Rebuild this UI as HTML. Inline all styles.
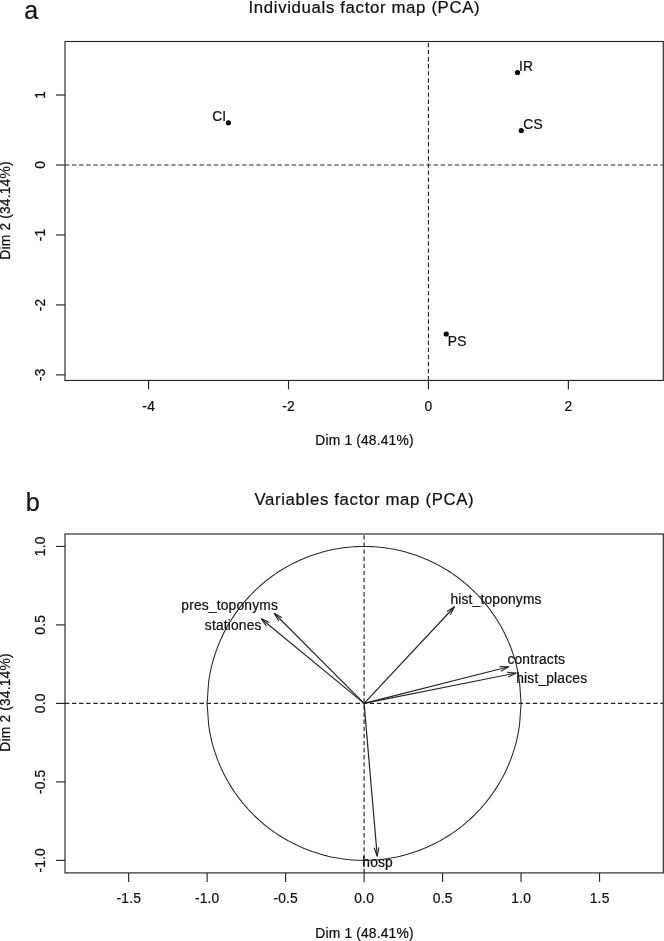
<!DOCTYPE html>
<html lang="en"><head><meta charset="utf-8"><title>PCA factor maps</title>
<style>html,body{margin:0;padding:0;background:#fff}svg{display:block}text{font-family:"Liberation Sans",sans-serif;fill:#111;stroke:#111;stroke-width:0.22px}</style>
</head><body>
<svg width="664" height="941" viewBox="0 0 664 941">
<rect x="0" y="0" width="664" height="941" fill="#ffffff"/>
<g>
<line x1="65.00" y1="165.00" x2="663.30" y2="165.00" stroke="#262626" stroke-width="1.15" stroke-dasharray="4.4 2.69" stroke-dashoffset="0.1"/>
<line x1="428.45" y1="380.45" x2="428.45" y2="41.50" stroke="#262626" stroke-width="1.15" stroke-dasharray="4.4 2.69" stroke-dashoffset="0"/>
<rect x="65.0" y="41.5" width="598.30" height="338.95" fill="none" stroke="#262626" stroke-width="1.15"/>
<line x1="56.00" y1="95.03" x2="65.00" y2="95.03" stroke="#262626" stroke-width="1.15"/>
<text transform="translate(44.65 94.94) rotate(-90)" font-size="13.8" letter-spacing="0.18" text-anchor="middle">1</text>
<line x1="56.00" y1="165.00" x2="65.00" y2="165.00" stroke="#262626" stroke-width="1.15"/>
<text transform="translate(44.65 164.91) rotate(-90)" font-size="13.8" letter-spacing="0.18" text-anchor="middle">0</text>
<line x1="56.00" y1="234.97" x2="65.00" y2="234.97" stroke="#262626" stroke-width="1.15"/>
<text transform="translate(44.65 234.88) rotate(-90)" font-size="13.8" letter-spacing="0.18" text-anchor="middle">-1</text>
<line x1="56.00" y1="304.93" x2="65.00" y2="304.93" stroke="#262626" stroke-width="1.15"/>
<text transform="translate(44.65 304.84) rotate(-90)" font-size="13.8" letter-spacing="0.18" text-anchor="middle">-2</text>
<line x1="56.00" y1="374.89" x2="65.00" y2="374.89" stroke="#262626" stroke-width="1.15"/>
<text transform="translate(44.65 374.81) rotate(-90)" font-size="13.8" letter-spacing="0.18" text-anchor="middle">-3</text>
<line x1="148.59" y1="380.45" x2="148.59" y2="389.45" stroke="#262626" stroke-width="1.15"/>
<text transform="translate(148.68 410.70)" font-size="13.8" letter-spacing="0.18" text-anchor="middle">-4</text>
<line x1="288.52" y1="380.45" x2="288.52" y2="389.45" stroke="#262626" stroke-width="1.15"/>
<text transform="translate(288.61 410.70)" font-size="13.8" letter-spacing="0.18" text-anchor="middle">-2</text>
<line x1="428.45" y1="380.45" x2="428.45" y2="389.45" stroke="#262626" stroke-width="1.15"/>
<text transform="translate(428.54 410.70)" font-size="13.8" letter-spacing="0.18" text-anchor="middle">0</text>
<line x1="568.38" y1="380.45" x2="568.38" y2="389.45" stroke="#262626" stroke-width="1.15"/>
<text transform="translate(568.47 410.70)" font-size="13.8" letter-spacing="0.18" text-anchor="middle">2</text>
<text transform="translate(364.49 445.30)" font-size="13.8" letter-spacing="0.18" text-anchor="middle">Dim 1 (48.41%)</text>
<text transform="translate(10.30 210.51) rotate(-90)" font-size="13.8" letter-spacing="0.18" text-anchor="middle">Dim 2 (34.14%)</text>
<text transform="translate(364.43 12.50)" font-size="16.8" letter-spacing="0.65" text-anchor="middle">Individuals factor map (PCA)</text>
<text transform="translate(24.30 18.90) scale(0.96 1)" font-size="26" letter-spacing="0" text-anchor="start">a</text>
<circle cx="228.4" cy="122.75" r="2.6" fill="#000"/>
<text transform="translate(212.20 120.60)" font-size="13.8" letter-spacing="0.18" text-anchor="start">CI</text>
<circle cx="517.5" cy="72.5" r="2.6" fill="#000"/>
<text transform="translate(519.00 70.75)" font-size="13.8" letter-spacing="0.18" text-anchor="start">IR</text>
<circle cx="521.25" cy="130.5" r="2.6" fill="#000"/>
<text transform="translate(523.30 129.25)" font-size="13.8" letter-spacing="0.18" text-anchor="start">CS</text>
<circle cx="446.25" cy="334.0" r="2.6" fill="#000"/>
<text transform="translate(447.80 345.60)" font-size="13.8" letter-spacing="0.18" text-anchor="start">PS</text>
</g>
<g>
<line x1="65.00" y1="703.40" x2="663.30" y2="703.40" stroke="#262626" stroke-width="1.15" stroke-dasharray="4.4 2.69" stroke-dashoffset="0.1"/>
<line x1="364.10" y1="872.90" x2="364.10" y2="534.00" stroke="#262626" stroke-width="1.15" stroke-dasharray="4.4 2.69" stroke-dashoffset="0"/>
<polyline fill="none" stroke="#262626" stroke-width="1.05" stroke-linejoin="round" points="207.1,703.4 208.7,681.3 210.3,672.2 211.8,665.2 213.4,659.5 215.0,654.4 216.6,649.8 218.1,645.7 219.7,641.9 221.3,638.3 222.8,635.0 224.4,631.8 226.0,628.8 227.5,626.0 229.1,623.3 230.7,620.7 232.3,618.2 233.8,615.9 235.4,613.6 237.0,611.4 238.5,609.2 240.1,607.2 241.7,605.2 243.2,603.3 244.8,601.4 246.4,599.6 247.9,597.8 249.5,596.1 251.1,594.5 252.7,592.9 254.2,591.3 255.8,589.8 257.4,588.3 258.9,586.9 260.5,585.5 262.1,584.1 263.6,582.8 265.2,581.5 266.8,580.2 268.4,579.0 269.9,577.8 271.5,576.7 273.1,575.5 274.6,574.4 276.2,573.4 277.8,572.3 279.3,571.3 280.9,570.3 282.5,569.3 284.1,568.4 285.6,567.5 287.2,566.6 288.8,565.7 290.3,564.9 291.9,564.0 293.5,563.2 295.0,562.5 296.6,561.7 298.2,561.0 299.7,560.2 301.3,559.5 302.9,558.9 304.5,558.2 306.0,557.6 307.6,557.0 309.2,556.4 310.7,555.8 312.3,555.2 313.9,554.7 315.4,554.2 317.0,553.7 318.6,553.2 320.2,552.7 321.7,552.3 323.3,551.8 324.9,551.4 326.4,551.0 328.0,550.6 329.6,550.3 331.1,549.9 332.7,549.6 334.3,549.3 335.8,549.0 337.4,548.7 339.0,548.5 340.6,548.2 342.1,548.0 343.7,547.8 345.3,547.6 346.8,547.4 348.4,547.2 350.0,547.1 351.5,546.9 353.1,546.8 354.7,546.7 356.3,546.6 357.8,546.6 359.4,546.5 361.0,546.5 362.5,546.4 364.1,546.4 365.7,546.4 367.2,546.5 368.8,546.5 370.4,546.6 371.9,546.6 373.5,546.7 375.1,546.8 376.7,546.9 378.2,547.1 379.8,547.2 381.4,547.4 382.9,547.6 384.5,547.8 386.1,548.0 387.6,548.2 389.2,548.5 390.8,548.7 392.4,549.0 393.9,549.3 395.5,549.6 397.1,549.9 398.6,550.3 400.2,550.6 401.8,551.0 403.3,551.4 404.9,551.8 406.5,552.3 408.0,552.7 409.6,553.2 411.2,553.7 412.8,554.2 414.3,554.7 415.9,555.2 417.5,555.8 419.0,556.4 420.6,557.0 422.2,557.6 423.7,558.2 425.3,558.9 426.9,559.5 428.5,560.2 430.0,561.0 431.6,561.7 433.2,562.5 434.7,563.2 436.3,564.0 437.9,564.9 439.4,565.7 441.0,566.6 442.6,567.5 444.1,568.4 445.7,569.3 447.3,570.3 448.9,571.3 450.4,572.3 452.0,573.4 453.6,574.4 455.1,575.5 456.7,576.7 458.3,577.8 459.8,579.0 461.4,580.2 463.0,581.5 464.6,582.8 466.1,584.1 467.7,585.5 469.3,586.9 470.8,588.3 472.4,589.8 474.0,591.3 475.5,592.9 477.1,594.5 478.7,596.1 480.3,597.8 481.8,599.6 483.4,601.4 485.0,603.3 486.5,605.2 488.1,607.2 489.7,609.2 491.2,611.4 492.8,613.6 494.4,615.9 495.9,618.2 497.5,620.7 499.1,623.3 500.7,626.0 502.2,628.8 503.8,631.8 505.4,635.0 506.9,638.3 508.5,641.9 510.1,645.7 511.6,649.8 513.2,654.4 514.8,659.5 516.4,665.2 517.9,672.2 519.5,681.3 521.1,703.4"/>
<polyline fill="none" stroke="#262626" stroke-width="1.05" stroke-linejoin="round" points="207.1,703.4 208.7,725.5 210.3,734.6 211.8,741.6 213.4,747.3 215.0,752.4 216.6,757.0 218.1,761.1 219.7,764.9 221.3,768.5 222.8,771.8 224.4,775.0 226.0,778.0 227.5,780.8 229.1,783.5 230.7,786.1 232.3,788.6 233.8,790.9 235.4,793.2 237.0,795.4 238.5,797.6 240.1,799.6 241.7,801.6 243.2,803.5 244.8,805.4 246.4,807.2 247.9,809.0 249.5,810.7 251.1,812.3 252.7,813.9 254.2,815.5 255.8,817.0 257.4,818.5 258.9,819.9 260.5,821.3 262.1,822.7 263.6,824.0 265.2,825.3 266.8,826.6 268.4,827.8 269.9,829.0 271.5,830.1 273.1,831.3 274.6,832.4 276.2,833.4 277.8,834.5 279.3,835.5 280.9,836.5 282.5,837.5 284.1,838.4 285.6,839.3 287.2,840.2 288.8,841.1 290.3,841.9 291.9,842.8 293.5,843.6 295.0,844.3 296.6,845.1 298.2,845.8 299.7,846.6 301.3,847.3 302.9,847.9 304.5,848.6 306.0,849.2 307.6,849.8 309.2,850.4 310.7,851.0 312.3,851.6 313.9,852.1 315.4,852.6 317.0,853.1 318.6,853.6 320.2,854.1 321.7,854.5 323.3,855.0 324.9,855.4 326.4,855.8 328.0,856.2 329.6,856.5 331.1,856.9 332.7,857.2 334.3,857.5 335.8,857.8 337.4,858.1 339.0,858.3 340.6,858.6 342.1,858.8 343.7,859.0 345.3,859.2 346.8,859.4 348.4,859.6 350.0,859.7 351.5,859.9 353.1,860.0 354.7,860.1 356.3,860.2 357.8,860.2 359.4,860.3 361.0,860.3 362.5,860.4 364.1,860.4 365.7,860.4 367.2,860.3 368.8,860.3 370.4,860.2 371.9,860.2 373.5,860.1 375.1,860.0 376.7,859.9 378.2,859.7 379.8,859.6 381.4,859.4 382.9,859.2 384.5,859.0 386.1,858.8 387.6,858.6 389.2,858.3 390.8,858.1 392.4,857.8 393.9,857.5 395.5,857.2 397.1,856.9 398.6,856.5 400.2,856.2 401.8,855.8 403.3,855.4 404.9,855.0 406.5,854.5 408.0,854.1 409.6,853.6 411.2,853.1 412.8,852.6 414.3,852.1 415.9,851.6 417.5,851.0 419.0,850.4 420.6,849.8 422.2,849.2 423.7,848.6 425.3,847.9 426.9,847.3 428.5,846.6 430.0,845.8 431.6,845.1 433.2,844.3 434.7,843.6 436.3,842.8 437.9,841.9 439.4,841.1 441.0,840.2 442.6,839.3 444.1,838.4 445.7,837.5 447.3,836.5 448.9,835.5 450.4,834.5 452.0,833.4 453.6,832.4 455.1,831.3 456.7,830.1 458.3,829.0 459.8,827.8 461.4,826.6 463.0,825.3 464.6,824.0 466.1,822.7 467.7,821.3 469.3,819.9 470.8,818.5 472.4,817.0 474.0,815.5 475.5,813.9 477.1,812.3 478.7,810.7 480.3,809.0 481.8,807.2 483.4,805.4 485.0,803.5 486.5,801.6 488.1,799.6 489.7,797.6 491.2,795.4 492.8,793.2 494.4,790.9 495.9,788.6 497.5,786.1 499.1,783.5 500.7,780.8 502.2,778.0 503.8,775.0 505.4,771.8 506.9,768.5 508.5,764.9 510.1,761.1 511.6,757.0 513.2,752.4 514.8,747.3 516.4,741.6 517.9,734.6 519.5,725.5 521.1,703.4"/>
<rect x="65.0" y="534.0" width="598.30" height="338.90" fill="none" stroke="#262626" stroke-width="1.15"/>
<line x1="56.00" y1="546.44" x2="65.00" y2="546.44" stroke="#262626" stroke-width="1.15"/>
<text transform="translate(44.65 546.35) rotate(-90)" font-size="13.8" letter-spacing="0.18" text-anchor="middle">1.0</text>
<line x1="56.00" y1="624.92" x2="65.00" y2="624.92" stroke="#262626" stroke-width="1.15"/>
<text transform="translate(44.65 624.83) rotate(-90)" font-size="13.8" letter-spacing="0.18" text-anchor="middle">0.5</text>
<line x1="56.00" y1="703.40" x2="65.00" y2="703.40" stroke="#262626" stroke-width="1.15"/>
<text transform="translate(44.65 703.31) rotate(-90)" font-size="13.8" letter-spacing="0.18" text-anchor="middle">0.0</text>
<line x1="56.00" y1="781.88" x2="65.00" y2="781.88" stroke="#262626" stroke-width="1.15"/>
<text transform="translate(44.65 781.79) rotate(-90)" font-size="13.8" letter-spacing="0.18" text-anchor="middle">-0.5</text>
<line x1="56.00" y1="860.36" x2="65.00" y2="860.36" stroke="#262626" stroke-width="1.15"/>
<text transform="translate(44.65 860.27) rotate(-90)" font-size="13.8" letter-spacing="0.18" text-anchor="middle">-1.0</text>
<line x1="128.66" y1="872.90" x2="128.66" y2="881.90" stroke="#262626" stroke-width="1.15"/>
<text transform="translate(128.75 903.30)" font-size="13.8" letter-spacing="0.18" text-anchor="middle">-1.5</text>
<line x1="207.14" y1="872.90" x2="207.14" y2="881.90" stroke="#262626" stroke-width="1.15"/>
<text transform="translate(207.23 903.30)" font-size="13.8" letter-spacing="0.18" text-anchor="middle">-1.0</text>
<line x1="285.62" y1="872.90" x2="285.62" y2="881.90" stroke="#262626" stroke-width="1.15"/>
<text transform="translate(285.71 903.30)" font-size="13.8" letter-spacing="0.18" text-anchor="middle">-0.5</text>
<line x1="364.10" y1="872.90" x2="364.10" y2="881.90" stroke="#262626" stroke-width="1.15"/>
<text transform="translate(364.19 903.30)" font-size="13.8" letter-spacing="0.18" text-anchor="middle">0.0</text>
<line x1="442.58" y1="872.90" x2="442.58" y2="881.90" stroke="#262626" stroke-width="1.15"/>
<text transform="translate(442.67 903.30)" font-size="13.8" letter-spacing="0.18" text-anchor="middle">0.5</text>
<line x1="521.06" y1="872.90" x2="521.06" y2="881.90" stroke="#262626" stroke-width="1.15"/>
<text transform="translate(521.15 903.30)" font-size="13.8" letter-spacing="0.18" text-anchor="middle">1.0</text>
<line x1="599.54" y1="872.90" x2="599.54" y2="881.90" stroke="#262626" stroke-width="1.15"/>
<text transform="translate(599.63 903.30)" font-size="13.8" letter-spacing="0.18" text-anchor="middle">1.5</text>
<text transform="translate(364.49 937.70)" font-size="13.8" letter-spacing="0.18" text-anchor="middle">Dim 1 (48.41%)</text>
<text transform="translate(10.30 702.51) rotate(-90)" font-size="13.8" letter-spacing="0.18" text-anchor="middle">Dim 2 (34.14%)</text>
<text transform="translate(364.38 504.70)" font-size="16.8" letter-spacing="0.65" text-anchor="middle">Variables factor map (PCA)</text>
<text transform="translate(25.70 510.80) scale(0.97 1)" font-size="26" letter-spacing="0" text-anchor="start">b</text>
<line x1="364.10" y1="703.40" x2="274.25" y2="613.25" stroke="#262626" stroke-width="1.2"/>
<polyline points="278.74,621.05 274.25,613.25 282.04,617.76" fill="none" stroke="#262626" stroke-width="1.15" stroke-linejoin="round"/>
<text transform="translate(181.30 610.00)" font-size="13.8" letter-spacing="0.18" text-anchor="start">pres_toponyms</text>
<line x1="364.10" y1="703.40" x2="261.25" y2="618.75" stroke="#262626" stroke-width="1.2"/>
<polyline points="266.48,626.07 261.25,618.75 269.44,622.48" fill="none" stroke="#262626" stroke-width="1.15" stroke-linejoin="round"/>
<text transform="translate(204.80 630.00)" font-size="13.8" letter-spacing="0.18" text-anchor="start">stationes</text>
<line x1="364.10" y1="703.40" x2="454.50" y2="606.75" stroke="#262626" stroke-width="1.2"/>
<polyline points="446.86,611.51 454.50,606.75 450.26,614.69" fill="none" stroke="#262626" stroke-width="1.15" stroke-linejoin="round"/>
<text transform="translate(450.40 603.50)" font-size="13.8" letter-spacing="0.18" text-anchor="start">hist_toponyms</text>
<line x1="364.10" y1="703.40" x2="508.75" y2="666.75" stroke="#262626" stroke-width="1.2"/>
<polyline points="499.75,666.63 508.75,666.75 500.90,671.14" fill="none" stroke="#262626" stroke-width="1.15" stroke-linejoin="round"/>
<text transform="translate(507.40 664.00)" font-size="13.8" letter-spacing="0.18" text-anchor="start">contracts</text>
<line x1="364.10" y1="703.40" x2="516.25" y2="673.00" stroke="#262626" stroke-width="1.2"/>
<polyline points="507.27,672.42 516.25,673.00 508.18,676.99" fill="none" stroke="#262626" stroke-width="1.15" stroke-linejoin="round"/>
<text transform="translate(516.20 682.50)" font-size="13.8" letter-spacing="0.18" text-anchor="start">hist_places</text>
<line x1="364.10" y1="703.40" x2="377.25" y2="856.25" stroke="#262626" stroke-width="1.2"/>
<polyline points="378.83,847.39 377.25,856.25 374.18,847.79" fill="none" stroke="#262626" stroke-width="1.15" stroke-linejoin="round"/>
<text transform="translate(362.30 867.00)" font-size="13.8" letter-spacing="0.18" text-anchor="start">hosp</text>
</g>
</svg>
</body></html>
